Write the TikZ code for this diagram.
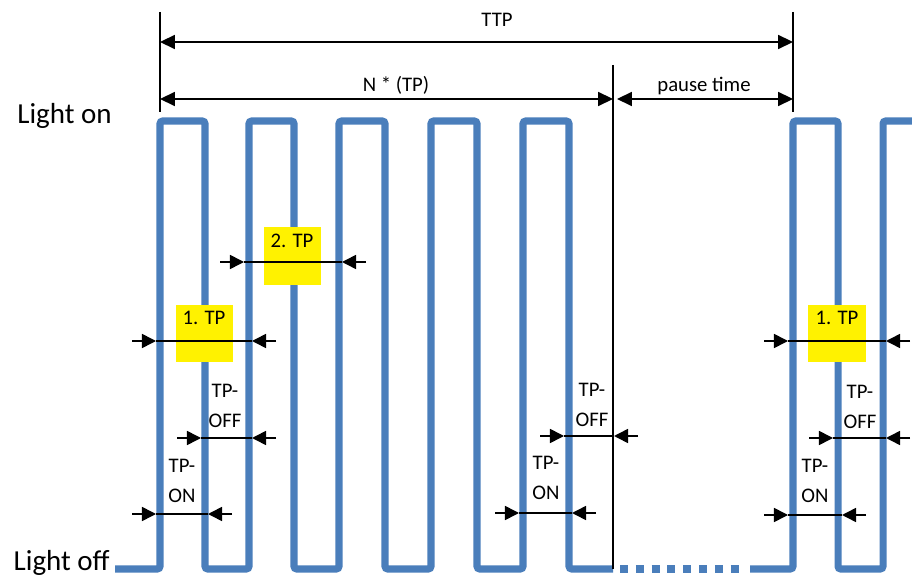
\documentclass[tikz,border=0pt]{standalone}
\usepackage{fontspec}
\setmainfont{Carlito}
\usepackage{xcolor}
\usetikzlibrary{arrows.meta}

\definecolor{waveblue}{RGB}{74,126,187}

\begin{document}
\begin{tikzpicture}[x=0.02cm, y=-0.02cm,
    wave/.style={line width=4pt, waveblue, rounded corners=1.5pt},
    ref/.style={line width=0.9pt},
    dim/.style={line width=0.9pt, {Triangle[length=8.5pt,width=8pt]}-{Triangle[length=8.5pt,width=8pt]}},
    tip/.style={line width=0.9pt, -{Triangle[length=8pt,width=8pt]}},
    lbl/.style={font=\fontsize{11.8}{17}\selectfont, inner sep=0pt},
    twoline/.style={lbl, align=center},
    tpbox/.style={fill=yellow, minimum width=1.15cm, minimum height=1.15cm, inner sep=0pt}]
    \useasboundingbox (0,0) rectangle (912,580);

    % pulse train, light off -> light on
    \draw[wave] (115,569)
        \foreach \u/\d in {160/205,249/294,339/385,431/477,523/569} {
            -- (\u,569) -- (\u,121) -- (\d,121) -- (\d,569) }
        -- (613,569);
    \draw[line width=4pt, waveblue, dash pattern=on 4.5pt off 4.5pt] (620,569) -- (745,569);
    \draw[wave] (750,569) -- (793,569) -- (793,121) -- (838,121) -- (838,569)
        -- (883,569) -- (883,121) -- (912,121);

    \node[font=\fontsize{16.5}{20}\selectfont, inner sep=0pt, anchor=base east] (lighton) at (112,124) {Light on};
    \node[font=\fontsize{16.5}{20}\selectfont, inner sep=0pt, anchor=base east] (lightoff) at (110,570) {Light off};

    % period boxes
    \node[tpbox] (boxa) at (204.5,333.5) {};
    \node[tpbox] (boxb) at (292.5,256) {};
    \node[tpbox] (boxc) at (837,333.5) {};
    \node[lbl, anchor=base] (tpa) at (204,325) {1. TP};
    \node[lbl, anchor=base] (tpb) at (292,248) {2. TP};
    \node[lbl, anchor=base] (tpc) at (837,325) {1. TP};

    % reference lines
    \draw[ref] (160,12) -- (160,112);
    \draw[ref] (793,12) -- (793,112);
    \draw[ref] (613,65) -- (613,569);

    % total and pause
    \draw[dim] (160,42) -- (793,42);
    \draw[dim] (160,99) -- (613,99);
    \draw[dim] (617,99) -- (793,99);
    \node[lbl, anchor=base] (ttp) at (497,27) {TTP};
    \node[lbl, anchor=base] (ntp) at (396,92) {N * (TP)};
    \node[lbl, anchor=base] (pause) at (704,92) {pause time};

    % measured widths, arrows pointing inwards
    \foreach \y/\a/\b in {341/156/252, 262/244/342, 438/201/252, 514/156/208,
                          436/564/614, 513/519/572, 438/833/886, 515/788/842, 341/788/886} {
        \draw[ref] (\a,\y) -- (\b,\y);
        \draw[tip] (\a-24,\y) -- (\a,\y);
        \draw[tip] (\b+24,\y) -- (\b,\y);
    }

    \node[twoline] (offa) at (225,406) {TP-\\OFF};
    \node[twoline] (ona) at (182,481) {TP-\\ON};
    \node[twoline] (offb) at (592,405) {TP-\\OFF};
    \node[twoline] (onb) at (546,478) {TP-\\ON};
    \node[twoline] (offc) at (860,407) {TP-\\OFF};
    \node[twoline] (onc) at (815,481) {TP-\\ON};
\end{tikzpicture}
\end{document}
